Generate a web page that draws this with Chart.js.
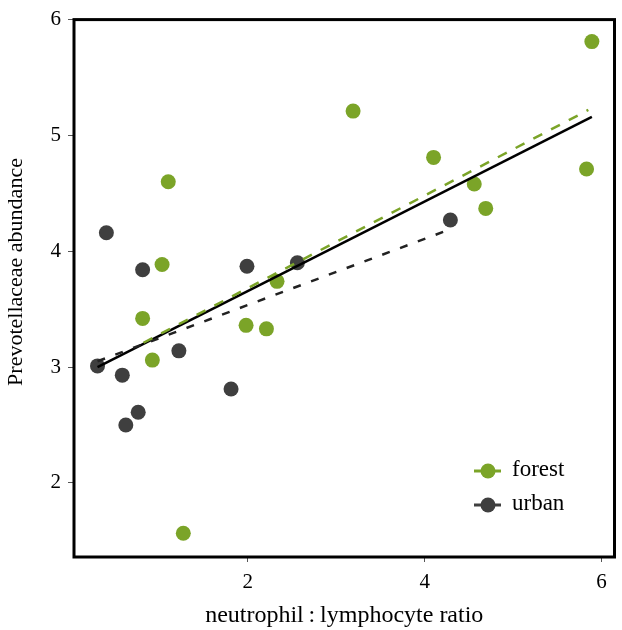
<!DOCTYPE html>
<html><head><meta charset="utf-8">
<script src="https://cdn.jsdelivr.net/npm/chart.js@4"></script>
<style>html,body{margin:0;padding:0;background:#fff}#wrap{width:622px;height:630px}</style>
</head><body><div id="wrap"><canvas id="c" width="622" height="630"></canvas></div>
<script>
// ---- data ----
const seriesNames = ['forest', 'urban'];
const forestX = [5.89, 5.83, 4.10, 4.56, 4.69, 3.19, 1.10, 1.03, 0.81, 1.98, 2.21, 0.92, 2.33, 1.27];
const forestY = [5.81, 4.71, 4.81, 4.58, 4.37, 5.21, 4.60, 3.885, 3.42, 3.36, 3.33, 3.06, 3.74, 1.565];
const urbanX  = [0.40, 0.81, 1.99, 1.22, 0.30, 0.58, 1.81, 0.76, 0.62, 2.56, 4.29];
const urbanY  = [4.16, 3.84, 3.87, 3.14, 3.01, 2.93, 2.81, 2.61, 2.50, 3.90, 4.27];
const allFitX = [0.30, 5.89];
const allFitY = [3.00, 5.16];
const forestFitX = [0.82, 5.85];
const forestFitY = [3.21, 5.22];
const urbanFitX = [0.30, 4.29];
const urbanFitY = [3.05, 4.19];
const xTicks = [2, 4, 6];
const yTicks = [2, 3, 4, 5, 6];
const xTitle = 'neutrophil\u2009:\u2009lymphocyte ratio';
const yTitle = 'Prevotellaceae abundance';

// ---- styling ----
const GREEN = '#7ba428';
const DARK = '#3f3f3f';
const FONT = '"Liberation Serif", "Times New Roman", serif';

const pts = (xs, ys) => xs.map((x, i) => ({x, y: ys[i]}));

const boxPlugin = {
  id: 'box',
  afterDraw(chart) {
    const {ctx, chartArea: a} = chart;
    ctx.save();
    ctx.lineWidth = 3;
    ctx.strokeStyle = '#000';
    ctx.strokeRect(a.left, a.top, a.right - a.left, a.bottom - a.top);
    // y-axis title
    ctx.translate(16, 272);
    ctx.rotate(-Math.PI / 2);
    ctx.fillStyle = '#000';
    ctx.font = '22px ' + FONT;
    ctx.textAlign = 'center';
    ctx.textBaseline = 'middle';
    ctx.fillText(yTitle, 0, 0);
    ctx.restore();
    // legend
    ctx.save();
    const colors = [GREEN, DARK];
    seriesNames.forEach((name, i) => {
      const cy = 471 + i * 34;
      ctx.strokeStyle = colors[i];
      ctx.lineWidth = 3;
      ctx.beginPath(); ctx.moveTo(474, cy); ctx.lineTo(501, cy); ctx.stroke();
      ctx.fillStyle = colors[i];
      ctx.beginPath(); ctx.arc(488, cy, 7.5, 0, Math.PI * 2); ctx.fill();
      ctx.fillStyle = '#000';
      ctx.font = '23px ' + FONT;
      ctx.textAlign = 'left';
      ctx.textBaseline = 'middle';
      ctx.fillText(name, 512, cy - 1);
    });
    ctx.restore();
  }
};

new Chart(document.getElementById('c'), {
  type: 'scatter',
  data: {
    datasets: [
      {label: seriesNames[0], data: pts(forestX, forestY), backgroundColor: GREEN, borderWidth: 0, pointRadius: 7.5, order: 2},
      {label: seriesNames[1], data: pts(urbanX, urbanY), backgroundColor: DARK, borderWidth: 0, pointRadius: 7.5, order: 2},
      {label: 'all', type: 'line', data: pts(allFitX, allFitY), borderColor: '#000', borderWidth: 2.5, pointRadius: 0, fill: false, order: 1},
      {label: 'forest fit', type: 'line', data: pts(forestFitX, forestFitY), borderColor: GREEN, borderWidth: 2.5, borderDash: [10, 10], pointRadius: 0, fill: false, order: 0},
      {label: 'urban fit', type: 'line', data: pts(urbanFitX, urbanFitY), borderColor: '#222', borderWidth: 2.5, borderDash: [8, 11], pointRadius: 0, fill: false, order: 0}
    ]
  },
  options: {
    responsive: false,
    animation: false,
    devicePixelRatio: 1,
    layout: {padding: {top: 13, right: 4, left: 0, bottom: 0}},
    plugins: {legend: {display: false}, tooltip: {enabled: false}},
    scales: {
      x: {
        type: 'linear', min: 0.034, max: 6.146,
        afterBuildTicks: s => { s.ticks = xTicks.map(v => ({value: v})); },
        afterFit: s => { s.height = 73; },
        border: {display: false},
        grid: {drawOnChartArea: false, drawTicks: true, tickLength: 5, color: '#555', lineWidth: 1},
        ticks: {color: '#000', font: {family: FONT, size: 21}, padding: 8, maxRotation: 0},
        title: {display: true, text: xTitle, color: '#000', font: {family: FONT, size: 24}, padding: {top: 0, bottom: 0}}
      },
      y: {
        type: 'linear', min: 1.36, max: 6.0,
        afterBuildTicks: s => { s.ticks = yTicks.map(v => ({value: v})); },
        afterFit: s => { s.width = 74; },
        border: {display: false},
        grid: {drawOnChartArea: false, drawTicks: true, tickLength: 6, color: '#555', lineWidth: 1},
        ticks: {color: '#000', font: {family: FONT, size: 21}, padding: 7},
        title: {display: false}
      }
    }
  },
  plugins: [boxPlugin]
});
</script>
</body></html>
